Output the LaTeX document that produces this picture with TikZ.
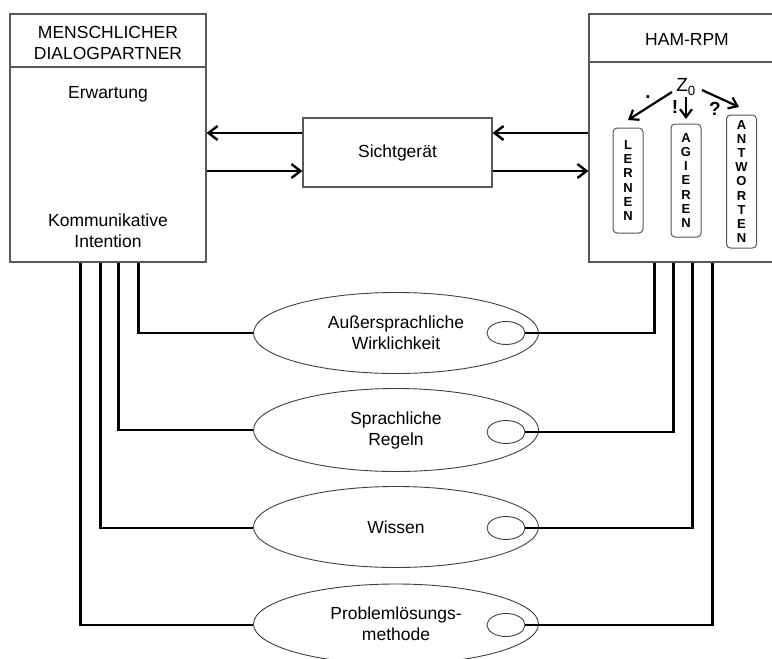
\documentclass[tikz,border=0pt]{standalone}
\usepackage{fontspec}
\setmainfont{Liberation Sans}
\usetikzlibrary{arrows.meta,calc,shapes.geometric}
\begin{document}
\begin{tikzpicture}[x=1pt,y=-1pt,
  box/.style={draw=black!65, line width=1.2pt, inner sep=0pt},
  sepline/.style={draw=black!65, line width=1.2pt},
  txt/.style={font=\fontsize{17.5}{21}\selectfont, align=center, inner sep=0pt},
  letters/.style={draw=black!65, line width=1pt, rounded corners=4pt, inner sep=0pt, minimum width=30pt,
     font=\fontsize{13}{14.2}\selectfont\bfseries, align=center},
  ell/.style={ellipse, draw=black!75, line width=0.9pt, inner sep=0pt, font=\fontsize{17.5}{21}\selectfont, align=center},
  sell/.style={ellipse, draw=black!75, line width=0.9pt, inner sep=0pt, minimum width=38pt, minimum height=23pt},
  arr/.style={draw=black, line width=2.4pt, -{Straight Barb[length=9pt,width=14pt,line width=2.4pt]}},
  zarr/.style={draw=black, line width=2.2pt, -{Straight Barb[length=8pt,width=12pt,line width=2.2pt]}},
  conn/.style={draw=black, line width=2.4pt},
  punct/.style={font=\fontsize{19}{19}\selectfont\bfseries, inner sep=0pt}
]
\useasboundingbox (0,0) rectangle (772,659);
\clip (0,0) rectangle (772,659);
\fill[white] (0,0) rectangle (772,659);

% left box
\node[box, minimum width=196pt, minimum height=248pt] (L) at (108,138) {};
\coordinate (hL) at (0,67);
\draw[sepline] (L.west |- hL) -- (L.east |- hL);
\node[txt] (Lt) at (108,43) {MENSCHLICHER\\DIALOGPARTNER};
\node[txt] (erw) at (108,94) {Erwartung};
\node[txt] (kom) at (108,231) {Kommunikative\\Intention};

% right box
\node[box, minimum width=191pt, minimum height=248pt] (R) at (684.5,138) {};
\coordinate (hR) at (0,62);
\draw[sepline] (R.west |- hR) -- (R.east |- hR);
\node[txt] (Rt) at (687,39) {HAM-RPM};
\node[txt, font=\fontsize{19}{21}\selectfont] (z) at (686,87) {Z\textsubscript{0}};

\node[letters, minimum height=105pt] (lern) at (628,180.5) {L\\E\\R\\N\\E\\N};
\node[letters, minimum height=113pt] (agi) at (686,180.5) {A\\G\\I\\E\\R\\E\\N};
\node[letters, minimum height=133pt] (antw) at (741.5,181.5) {A\\N\\T\\W\\O\\R\\T\\E\\N};

\coordinate (a1s) at (672,92);
\coordinate (a1e) at (628,120);
\coordinate (a2s) at (686,97);
\coordinate (a2e) at (686,119);
\coordinate (a3s) at (702,90);
\coordinate (a3e) at (739,107);
\draw[zarr] (a1s) -- (a1e);
\draw[zarr] (a2s) -- (a2e);
\draw[zarr] (a3s) -- (a3e);
\node[punct] (dot) at (648,97) {.};
\node[punct] (exc) at (675,107) {!};
\node[punct] (que) at (715,109) {?};

% Sichtgeraet
\node[box, minimum width=189pt, minimum height=69pt, font=\fontsize{17.5}{21}\selectfont] (S) at (397.5,152.5) {Sichtgerät};
\coordinate (ya) at (0,133);
\coordinate (yb) at (0,171);
\draw[arr] (S.west |- ya) -- (L.east |- ya);
\draw[arr] (L.east |- yb) -- (S.west |- yb);
\draw[arr] (R.west |- ya) -- (S.east |- ya);
\draw[arr] (S.east |- yb) -- (R.west |- yb);

% ellipses
\node[ell, minimum width=285pt, minimum height=81pt] (e1) at (396,333) {Außersprachliche\\Wirklichkeit};
\node[ell, minimum width=285pt, minimum height=83pt] (e2) at (396,430) {Sprachliche\\Regeln};
\node[ell, minimum width=285pt, minimum height=81pt] (e3) at (396,527) {Wissen};
\node[ell, minimum width=285pt, minimum height=80pt] (e4) at (396,624) {Problemlösungs-\\methode};
\node[sell] (s1) at (506,333) {};
\node[sell] (s2) at (506,432) {};
\node[sell] (s3) at (506,528) {};
\node[sell] (s4) at (506,625) {};

% connectors left
\draw[conn] ([xshift=129pt]L.south west) |- (e1.west);
\draw[conn] ([xshift=109pt]L.south west) |- (e2.west);
\draw[conn] ([xshift=91pt]L.south west) |- (e3.west |- s3.west);
\draw[conn] ([xshift=71pt]L.south west) |- (e4.west |- s4.west);
% connectors right
\draw[conn] (s1.east) -| ([xshift=66pt]R.south west);
\draw[conn] (s2.east) -| ([xshift=85pt]R.south west);
\draw[conn] (s3.east) -| ([xshift=104pt]R.south west);
\draw[conn] (s4.east) -| ([xshift=124pt]R.south west);
\end{tikzpicture}
\end{document}
